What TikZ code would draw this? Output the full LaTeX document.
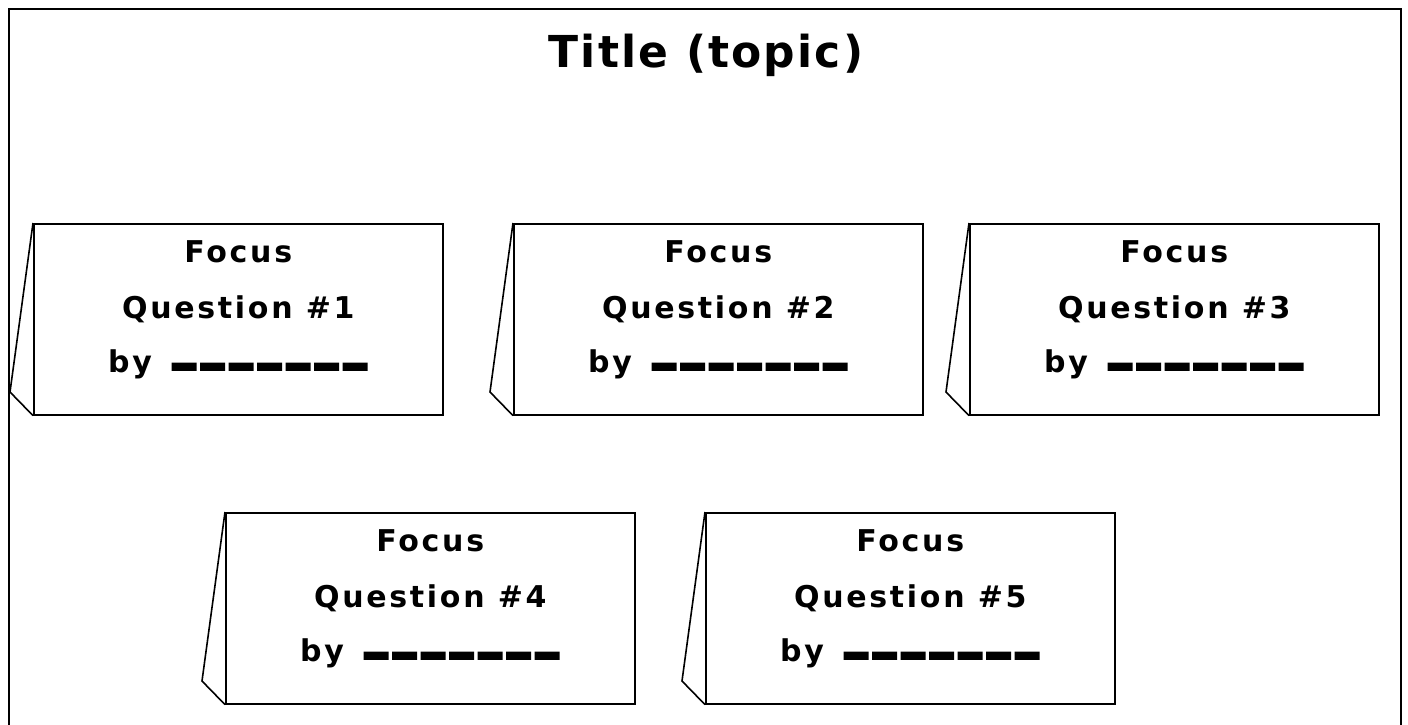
\documentclass[tikz,border=0pt]{standalone}
\usepackage{fontspec}
\setmainfont{DejaVu Sans}
\newfontfamily\cardfont[LetterSpace=9]{DejaVu Sans}
\newfontfamily\titlefont[LetterSpace=5]{DejaVu Sans}
\newfontfamily\lnfont[LetterSpace=27.6,FakeBold=18]{DejaVu Sans}
\newcommand\blankline{\raisebox{11pt}{\scalebox{1.225}[1]{\lnfont\bfseries\_\_\_\_\_\_\_}}}
\begin{document}
\begin{tikzpicture}[x=1pt,y=-1pt,
  frame/.style={line width=2.2pt},
  cardline/.style={line width=1.6pt, line join=miter},
  front/.style={draw, line width=1.6pt, rectangle, minimum width=409pt, minimum height=191pt, anchor=north west, inner sep=0pt},
  lbl/.style={font=\cardfont\bfseries\fontsize{30}{36}\selectfont, anchor=base, inner sep=0pt},
  ttl/.style={font=\titlefont\bfseries\fontsize{44}{52}\selectfont, anchor=base, inner sep=0pt}]
\newcommand\tentcard[4]{%
  \node[front] (#1) at (#2,#3) {};
  \draw[cardline] (#1.north west) -- ++(-23,169) -- (#1.south west);
  \node[lbl] (#1-f) at ([yshift=-39pt]#1.north) {Focus};
  \node[lbl] (#1-q) at ([yshift=-95pt]#1.north) {Question \##4};
  \node[lbl] (#1-b) at ([xshift=-2pt,yshift=-149pt]#1.north) {by\hspace{23pt}\blankline};
}
\useasboundingbox (0,0) rectangle (1408,724);
\draw[frame] (9,9) rectangle (1401,740);
\node[ttl] (title) at (706,67) {Title (topic)};
\tentcard{c1}{33}{223}{1}
\tentcard{c2}{513}{223}{2}
\tentcard{c3}{969}{223}{3}
\tentcard{c4}{225}{512}{4}
\tentcard{c5}{705}{512}{5}
\end{tikzpicture}
\end{document}
